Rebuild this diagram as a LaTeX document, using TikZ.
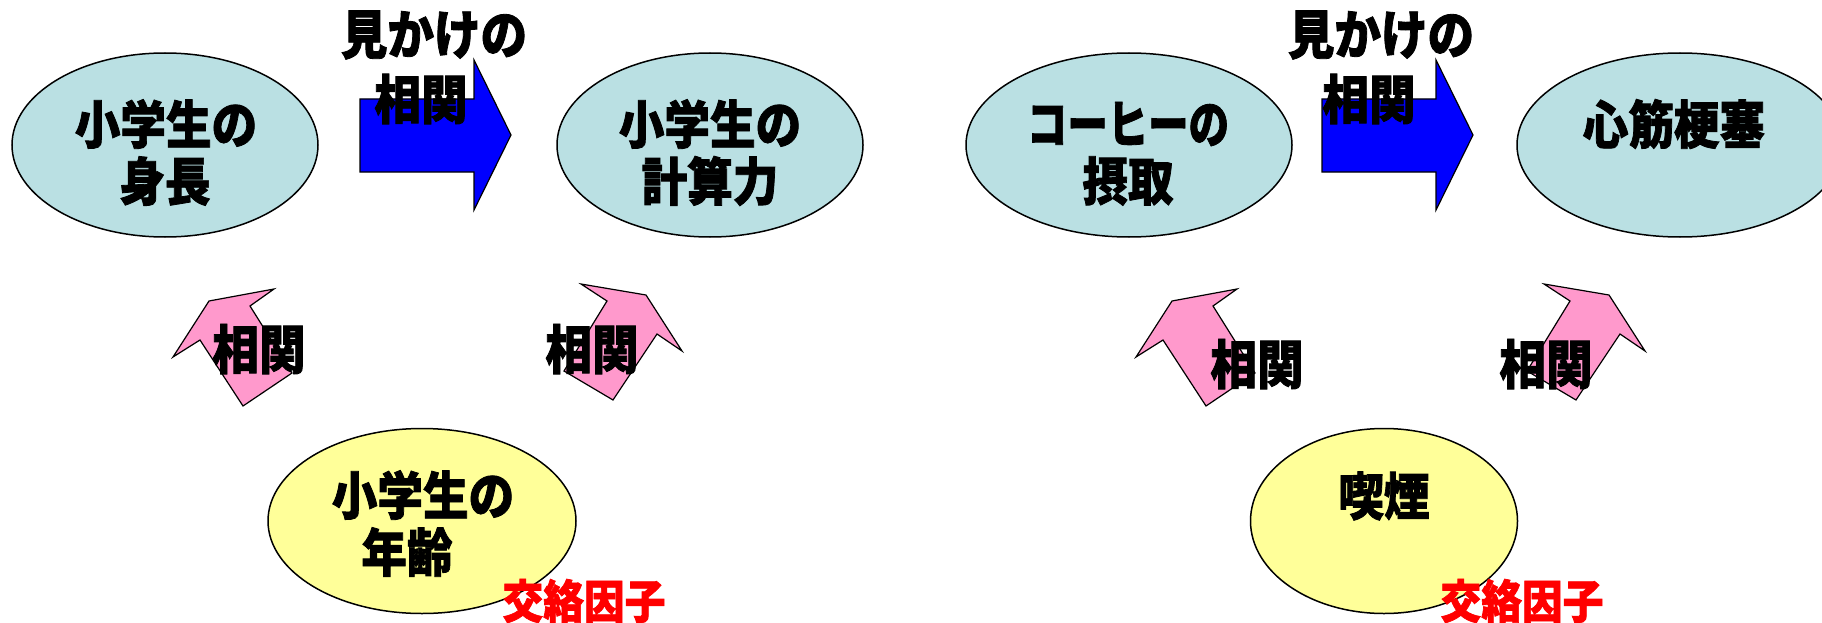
\documentclass[tikz,border=0pt]{standalone}
\usepackage{fontspec}
\usepackage{graphicx}
\newfontfamily\cjk{Noto Sans CJK JP}[BoldFeatures={FakeBold=1.6}]
\usetikzlibrary{shapes.geometric}
\definecolor{lblue}{HTML}{BAE0E3}
\definecolor{lyellow}{HTML}{FFFF99}
\definecolor{lpink}{HTML}{FF99CC}
\definecolor{abblue}{HTML}{0000FF}
\definecolor{abred}{HTML}{FF0000}
\newcommand\tallt[1]{\scalebox{0.97}[1.1]{#1}}
\tikzset{
  ell/.style={ellipse, draw=black, line width=1.5, inner sep=0pt},
  blueell/.style={ell, fill=lblue},
  yellowell/.style={ell, fill=lyellow},
  txt/.style={inner sep=0pt, font=\cjk\bfseries\fontsize{47}{57}\selectfont},
  lbl/.style={inner sep=0pt, font=\cjk\bfseries\fontsize{48}{57}\selectfont},
  redlbl/.style={inner sep=0pt, text=abred, font=\cjk\bfseries\fontsize{42}{50}\selectfont},
  bigarrow/.style={draw=black, line width=1.2, fill=abblue, line join=miter},
  pinkarrow/.style={draw=black, line width=1.2, fill=lpink, line join=miter},
}
\begin{document}
\begin{tikzpicture}[x=1pt,y=-1pt]
\useasboundingbox (0,0) rectangle (1822,623);
\clip (0,0) rectangle (1822,623);
\fill[white] (0,0) rectangle (1822,623);

% ---------- left panel ----------
\node[blueell, minimum width=306, minimum height=184] (e1) at (165,145) {};
\node[blueell, minimum width=306, minimum height=184] (e2) at (710,145) {};
\node[yellowell, minimum width=308, minimum height=185] (y1) at (422,521) {};

\node[txt] (t1a) at (166,124) {\tallt{小学生の}};
\node[txt] (t1b) at (165,181) {\tallt{身長}};
\node[txt] (t2a) at (710,124) {\tallt{小学生の}};
\node[txt] (t2b) at (710,181) {\tallt{計算力}};
\node[txt] (y1a) at (423,495) {\tallt{小学生の}};
\node[txt] (y1b) at (407,552) {\tallt{年齢}};

\draw[bigarrow] (360,99) -- (474,99) -- (474,60) -- (511,135) -- (474,210) -- (474,172) -- (360,172) -- cycle;
\draw[pinkarrow] (292,373) -- (250,306) -- (274,289) -- (209,301) -- (173,357) -- (200,340) -- (243,406) -- cycle;
\draw[pinkarrow] (581,284) -- (646,295) -- (682,351) -- (657,334) -- (613,400) -- (564,371) -- (607,301) -- cycle;

\node[lbl] (m1) at (434,35) {\tallt{見かけの}};
\node[lbl] (s1) at (421,99) {\tallt{相関}};
\node[lbl] (p1) at (259,349) {\tallt{相関}};
\node[lbl] (p2) at (592,349) {\tallt{相関}};
\node[redlbl] (r1) at (584,601) {\tallt{交絡因子}};

% ---------- right panel ----------
\node[blueell, minimum width=326, minimum height=184] (e3) at (1129,145) {};
\node[blueell, minimum width=326, minimum height=184] (e4) at (1680,145) {};
\node[yellowell, minimum width=267, minimum height=185] (y2) at (1384,521) {};

\node[txt] (t3a) at (1128,124) {\scalebox{0.86}[1.1]{コーヒーの}};
\node[txt] (t3b) at (1128,181) {\tallt{摂取}};
\node[txt] (t4) at (1674,124) {\tallt{心筋梗塞}};
\node[txt] (y2a) at (1384,496) {\tallt{喫煙}};

\draw[bigarrow] (1322,99) -- (1436,99) -- (1436,60) -- (1473,135) -- (1436,210) -- (1436,172) -- (1322,172) -- cycle;
\draw[pinkarrow] (1255,373) -- (1213,306) -- (1237,289) -- (1172,301) -- (1136,357) -- (1163,340) -- (1206,406) -- cycle;
\draw[pinkarrow] (1544,284) -- (1609,295) -- (1645,351) -- (1620,334) -- (1576,400) -- (1527,371) -- (1570,301) -- cycle;

\node[lbl] (m2) at (1381,35) {\tallt{見かけの}};
\node[lbl] (s2) at (1369,99) {\tallt{相関}};
\node[lbl] (p3) at (1257,364) {\tallt{相関}};
\node[lbl] (p4) at (1546,364) {\tallt{相関}};
\node[redlbl] (r2) at (1522,601) {\tallt{交絡因子}};
\end{tikzpicture}
\end{document}
